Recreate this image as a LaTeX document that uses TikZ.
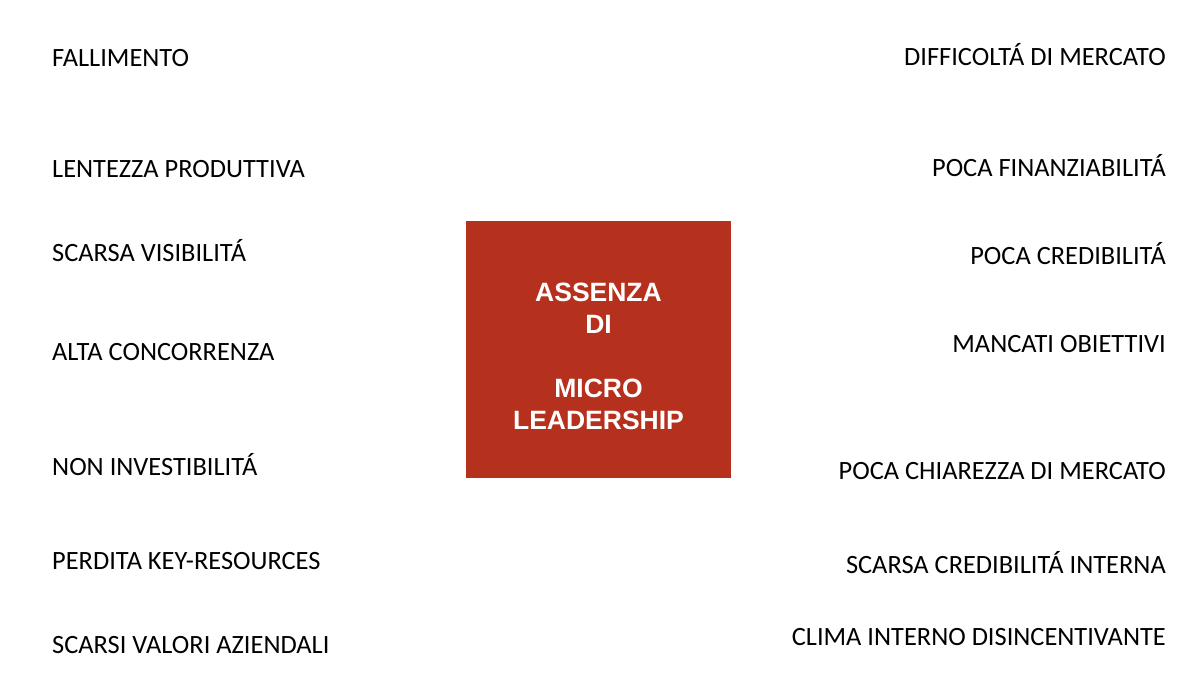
\documentclass[tikz,border=0pt]{standalone}
\usepackage{fontspec}
\setmainfont{Carlito}
\newfontfamily\boxfont{Liberation Sans}
\usetikzlibrary{positioning}

\begin{document}
\begin{tikzpicture}[x=1pt, y=-1pt,
  voce/.style={inner sep=0pt, font=\fontsize{26.4}{30}\selectfont},
  sx/.style={voce, anchor=base west},
  dx/.style={voce, anchor=base east},
  nucleo/.style={fill=rossobox, minimum width=265pt, minimum height=257pt, inner sep=0pt},
  scritta/.style={text=white, align=center, inner sep=0pt,
    font=\boxfont\bfseries\fontsize{26.5}{32}\selectfont}]
  \definecolor{rossobox}{RGB}{182,48,30}
  % cornice
  \useasboundingbox (0,0) rectangle (1188,689);
  \fill[white] (0,0) rectangle (1188,689);

  % colonna sinistra
  \def\xs{52}
  \node[sx] (fallimento) at (\xs,66) {FALLIMENTO};
  \node[sx] (lentezza)   at (\xs,177) {LENTEZZA PRODUTTIVA};
  \node[sx] (visib)      at (\xs,261) {SCARSA VISIBILITÁ};
  \node[sx] (concorr)    at (\xs,360) {ALTA CONCORRENZA};
  \node[sx] (investib)   at (\xs,475) {NON INVESTIBILITÁ};
  \node[sx] (risorse)    at (\xs,569) {PERDITA KEY-RESOURCES};
  \node[sx] (valori)     at (\xs,653) {SCARSI VALORI AZIENDALI};

  % colonna destra
  \def\xd{1166}
  \node[dx] (mercato)    at (\xd,65) {DIFFICOLTÁ DI MERCATO};
  \node[dx] (finanz)     at (\xd,176) {POCA FINANZIABILITÁ};
  \node[dx] (credib)     at (\xd,264) {POCA CREDIBILITÁ};
  \node[dx] (obiettivi)  at (\xd,352) {MANCATI OBIETTIVI};
  \node[dx] (chiarezza)  at (\xd,479) {POCA CHIAREZZA DI MERCATO};
  \node[dx] (interna)    at (\xd,573) {SCARSA CREDIBILITÁ INTERNA};
  \node[dx] (clima)      at (\xd,645) {CLIMA INTERNO DISINCENTIVANTE};

  % riquadro centrale
  \node[nucleo] (assenza) at (598.5,349.5) {};
  \node[scritta] (titolo) at ([yshift=-7pt]assenza.center) {ASSENZA\\DI\\[32pt]MICRO\\LEADERSHIP};
\end{tikzpicture}
\end{document}
